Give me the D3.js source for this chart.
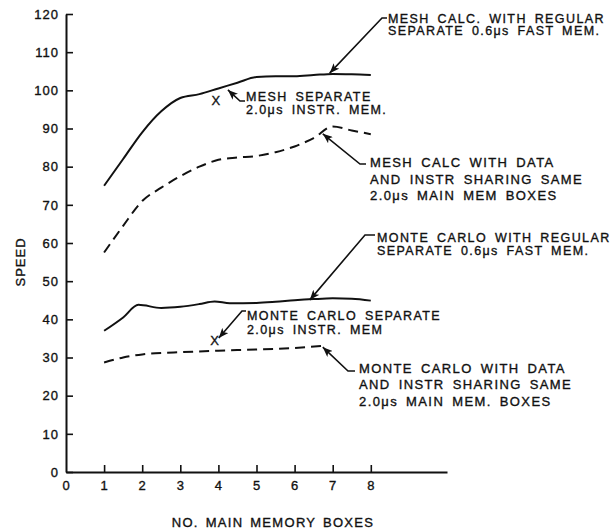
<!DOCTYPE html>
<html>
<head>
<meta charset="utf-8">
<script src="https://cdn.jsdelivr.net/npm/d3@7"></script>
<style>
  html, body { margin: 0; padding: 0; background: #fff; }
  svg { display: block; }
  text { font-family: "Liberation Sans", Arial, sans-serif; fill: #111; stroke: #111; stroke-width: 0.35px; }
</style>
</head>
<body>
<svg id="chart" width="615" height="529"></svg>
<script>
// ---------- data ----------
const meshX        = [1, 1.5, 2, 2.5, 3, 3.5, 4, 4.5, 5, 5.5, 6, 6.5, 7, 7.5, 8];
const meshSeparate = [75, 82, 89, 94.5, 98, 99, 100.5, 102, 103.5, 103.7, 103.7, 104, 104.3, 104.2, 104];
const meshSharedX  = [1, 1.5, 2, 2.5, 3, 3.5, 4, 4.5, 5, 5.5, 6, 6.5, 7, 7.5, 8];
const meshShared   = [57.5, 64.5, 71, 74.5, 77.5, 80, 81.8, 82.4, 82.8, 83.8, 85.3, 87.5, 90.5, 89.5, 88.5];
const mcX          = [1, 1.5, 1.9, 2.5, 3, 3.5, 3.9, 4.3, 5, 5.5, 6, 6.5, 7, 7.5, 8];
const mcSeparate   = [37, 40.5, 43.8, 43, 43.3, 44, 44.7, 44.2, 44.3, 44.6, 45, 45.3, 45.5, 45.4, 44.9];
const mcSharedX    = [1, 1.5, 2, 2.5, 3, 4, 5, 6, 6.7];
const mcShared     = [28.7, 30, 30.8, 31.2, 31.4, 31.8, 32.1, 32.5, 33];
const markerPoints = [[3.93, 97.5], [3.9, 34.6]];   // "X" single-point results
const xTicks = [0, 1, 2, 3, 4, 5, 6, 7, 8];
const yTicks = [0, 10, 20, 30, 40, 50, 60, 70, 80, 90, 100, 110, 120];
const xTitle = "NO. MAIN MEMORY BOXES";
const yTitle = "SPEED";

// annotation texts, tips in data units
const annTexts = [
  ["MESH CALC. WITH REGULAR", "SEPARATE 0.6μs FAST MEM."],
  ["MESH SEPARATE", "2.0μs INSTR. MEM."],
  ["MESH CALC WITH DATA", "AND INSTR SHARING SAME", "2.0μs MAIN MEM BOXES"],
  ["MONTE CARLO WITH REGULAR", "SEPARATE 0.6μs FAST MEM."],
  ["MONTE CARLO SEPARATE", "2.0μs INSTR. MEM"],
  ["MONTE CARLO WITH DATA", "AND INSTR SHARING SAME", "2.0μs MAIN MEM. BOXES"]
];
const annTips = [[6.92, 104.5], [4.25, 100.1], [6.74, 88.6], [6.4, 45.1], [4.01, 35.1], [6.74, 32.7]];

// annotation layout (pixels)
const annLayout = [
  {start: [387, 18],  knee: [382, 18],  tx: 388, base: [22.5, 35]},
  {start: [245, 101], knee: [240, 101], tx: 246, base: [101, 113.5]},
  {start: [366, 164], knee: [360, 164], tx: 370, base: [167, 183.5, 200]},
  {start: [375, 235], knee: [365, 235], tx: 377, base: [242, 255]},
  {start: [246, 311], knee: [242, 311], tx: 247, base: [320, 334]},
  {start: [355, 371], knee: [348, 371], tx: 359, base: [372.5, 389, 405.5]}
];

// ---------- chart ----------
const svg = d3.select("#chart");
svg.append("rect").attr("width", 615).attr("height", 529).attr("fill", "#fff");

const x = d3.scaleLinear().domain([0, 10]).range([66, 447]);
const y = d3.scaleLinear().domain([0, 120]).range([472, 14]);

svg.append("defs").append("marker")
  .attr("id", "arrow")
  .attr("markerUnits", "userSpaceOnUse")
  .attr("markerWidth", 11).attr("markerHeight", 8)
  .attr("refX", 10).attr("refY", 4)
  .attr("orient", "auto")
  .append("path").attr("d", "M0,0 L10,4 L0,8 L2.5,4 Z").attr("fill", "#111");

// axes
const yAxis = d3.axisLeft(y).tickValues(yTicks).tickSizeInner(-7).tickSizeOuter(0).tickPadding(7);
const xAxis = d3.axisBottom(x).tickValues(xTicks).tickSizeInner(-7).tickSizeOuter(0).tickPadding(9);

const gx = svg.append("g").attr("transform", `translate(0,${y(0)})`).call(xAxis);
const gy = svg.append("g").attr("transform", `translate(${x(0)},0)`).call(yAxis);
[gx, gy].forEach(g => {
  g.select(".domain").attr("stroke", "#111").attr("stroke-width", 2);
  g.selectAll(".tick line").attr("stroke", "#111").attr("stroke-width", 1.6);
  g.selectAll(".tick text").attr("font-size", 13).attr("fill", "#111")
    .style("font-family", "'Liberation Sans', Arial, sans-serif").attr("letter-spacing", 1);
});
gx.selectAll(".tick").filter(d => d === 0).select("line").remove();

// axis titles
svg.append("text").attr("x", 273).attr("y", 527).attr("text-anchor", "middle")
  .attr("font-size", 13).attr("letter-spacing", 1.3).attr("word-spacing", 2).text(xTitle);
svg.append("text").attr("transform", `translate(25,262) rotate(-90)`).attr("text-anchor", "middle")
  .attr("font-size", 13).attr("letter-spacing", 1).text(yTitle);

// lines
const line = d3.line().x(d => x(d[0])).y(d => y(d[1])).curve(d3.curveMonotoneX);
const series = [
  {xs: meshX, ys: meshSeparate, dash: null},
  {xs: meshSharedX, ys: meshShared, dash: "10,6"},
  {xs: mcX, ys: mcSeparate, dash: null},
  {xs: mcSharedX, ys: mcShared, dash: "10,6"}
];
series.forEach(s => {
  svg.append("path")
    .datum(s.xs.map((v, i) => [v, s.ys[i]]))
    .attr("d", line)
    .attr("fill", "none").attr("stroke", "#111").attr("stroke-width", 2)
    .attr("stroke-dasharray", s.dash);
});

// X markers
svg.selectAll(".xm").data(markerPoints).enter().append("text")
  .attr("class", "xm")
  .attr("x", d => x(d[0])).attr("y", d => y(d[1]))
  .attr("dy", "0.36em").attr("text-anchor", "middle")
  .attr("font-size", 13).text("X");

// annotations
annTexts.forEach((lines, i) => {
  const L = annLayout[i];
  const tip = annTips[i];
  const twoLine = lines.length === 2;
  svg.append("path")
    .attr("d", d3.line()([L.start, L.knee, [x(tip[0]), y(tip[1])]]))
    .attr("fill", "none").attr("stroke", "#111").attr("stroke-width", 1.6)
    .attr("marker-end", "url(#arrow)");
  lines.forEach((t, j) => {
    svg.append("text").attr("x", L.tx).attr("y", L.base[j])
      .attr("font-size", twoLine ? 12.5 : 13)
      .attr("letter-spacing", 1.4).attr("word-spacing", 3)
      .text(t);
  });
});
</script>
</body>
</html>
